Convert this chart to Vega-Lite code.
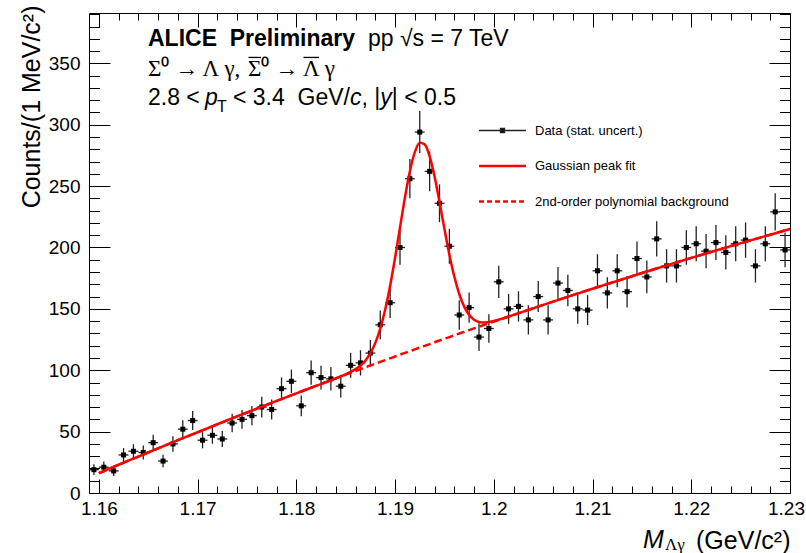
{
"$schema": "https://vega.github.io/schema/vega-lite/v6.json",
"width": 701,
"height": 480,
"autosize": {"type": "none"},
"padding": {"left": 89, "top": 13, "right": 16, "bottom": 60},
"background": "white",
"config": {
  "view": {"stroke": "black", "strokeWidth": 1},
  "axis": {"labelFont": "Liberation Sans", "titleFont": "Liberation Sans", "labelFontSize": 19, "titleFontSize": 25, "titleFontWeight": "normal", "labelColor": "black", "titleColor": "black", "tickColor": "black", "tickWidth": 1, "domain": false, "grid": false, "labelOverlap": false, "labelFlush": false}
},
"datasets": {
  "hist": [
    {"m":1.1595,"x0":1.159,"x1":1.160,"n":19,"lo":14.6,"hi":23.4},
    {"m":1.1605,"x0":1.160,"x1":1.161,"n":21,"lo":16.4,"hi":25.6},
    {"m":1.1615,"x0":1.161,"x1":1.162,"n":18,"lo":13.8,"hi":22.2},
    {"m":1.1625,"x0":1.162,"x1":1.163,"n":31,"lo":25.4,"hi":36.6},
    {"m":1.1635,"x0":1.163,"x1":1.164,"n":34,"lo":28.2,"hi":39.8},
    {"m":1.1645,"x0":1.164,"x1":1.165,"n":33,"lo":27.3,"hi":38.7},
    {"m":1.1655,"x0":1.165,"x1":1.166,"n":41,"lo":34.6,"hi":47.4},
    {"m":1.1665,"x0":1.166,"x1":1.167,"n":26,"lo":20.9,"hi":31.1},
    {"m":1.1675,"x0":1.167,"x1":1.168,"n":40,"lo":33.7,"hi":46.3},
    {"m":1.1685,"x0":1.168,"x1":1.169,"n":52,"lo":44.8,"hi":59.2},
    {"m":1.1695,"x0":1.169,"x1":1.170,"n":59,"lo":51.3,"hi":66.7},
    {"m":1.1705,"x0":1.170,"x1":1.171,"n":43,"lo":36.4,"hi":49.6},
    {"m":1.1715,"x0":1.171,"x1":1.172,"n":47,"lo":40.1,"hi":53.9},
    {"m":1.1725,"x0":1.172,"x1":1.173,"n":44,"lo":37.4,"hi":50.6},
    {"m":1.1735,"x0":1.173,"x1":1.174,"n":57,"lo":49.5,"hi":64.5},
    {"m":1.1745,"x0":1.174,"x1":1.175,"n":60,"lo":52.3,"hi":67.7},
    {"m":1.1755,"x0":1.175,"x1":1.176,"n":63,"lo":55.1,"hi":70.9},
    {"m":1.1765,"x0":1.176,"x1":1.177,"n":70,"lo":61.6,"hi":78.4},
    {"m":1.1775,"x0":1.177,"x1":1.178,"n":68,"lo":59.8,"hi":76.2},
    {"m":1.1785,"x0":1.178,"x1":1.179,"n":85,"lo":75.8,"hi":94.2},
    {"m":1.1795,"x0":1.179,"x1":1.180,"n":91,"lo":81.5,"hi":100.5},
    {"m":1.1805,"x0":1.180,"x1":1.181,"n":71,"lo":62.6,"hi":79.4},
    {"m":1.1815,"x0":1.181,"x1":1.182,"n":98,"lo":88.1,"hi":107.9},
    {"m":1.1825,"x0":1.182,"x1":1.183,"n":94,"lo":84.3,"hi":103.7},
    {"m":1.1835,"x0":1.183,"x1":1.184,"n":93,"lo":83.4,"hi":102.6},
    {"m":1.1845,"x0":1.184,"x1":1.185,"n":87,"lo":77.7,"hi":96.3},
    {"m":1.1855,"x0":1.185,"x1":1.186,"n":104,"lo":93.8,"hi":114.2},
    {"m":1.1865,"x0":1.186,"x1":1.187,"n":106,"lo":95.7,"hi":116.3},
    {"m":1.1875,"x0":1.187,"x1":1.188,"n":114,"lo":103.3,"hi":124.7},
    {"m":1.1885,"x0":1.188,"x1":1.189,"n":137,"lo":125.3,"hi":148.7},
    {"m":1.1895,"x0":1.189,"x1":1.190,"n":155,"lo":142.5,"hi":167.5},
    {"m":1.1905,"x0":1.190,"x1":1.191,"n":200,"lo":185.9,"hi":214.1},
    {"m":1.1915,"x0":1.191,"x1":1.192,"n":256,"lo":240.0,"hi":272.0},
    {"m":1.1925,"x0":1.192,"x1":1.193,"n":294,"lo":276.9,"hi":311.1},
    {"m":1.1935,"x0":1.193,"x1":1.194,"n":262,"lo":245.8,"hi":278.2},
    {"m":1.1945,"x0":1.194,"x1":1.195,"n":236,"lo":220.6,"hi":251.4},
    {"m":1.1955,"x0":1.195,"x1":1.196,"n":201,"lo":186.8,"hi":215.2},
    {"m":1.1965,"x0":1.196,"x1":1.197,"n":145,"lo":133.0,"hi":157.0},
    {"m":1.1975,"x0":1.197,"x1":1.198,"n":151,"lo":138.7,"hi":163.3},
    {"m":1.1985,"x0":1.198,"x1":1.199,"n":127,"lo":115.7,"hi":138.3},
    {"m":1.1995,"x0":1.199,"x1":1.200,"n":134,"lo":122.4,"hi":145.6},
    {"m":1.2005,"x0":1.200,"x1":1.201,"n":172,"lo":158.9,"hi":185.1},
    {"m":1.2015,"x0":1.201,"x1":1.202,"n":150,"lo":137.8,"hi":162.2},
    {"m":1.2025,"x0":1.202,"x1":1.203,"n":152,"lo":139.7,"hi":164.3},
    {"m":1.2035,"x0":1.203,"x1":1.204,"n":141,"lo":129.1,"hi":152.9},
    {"m":1.2045,"x0":1.204,"x1":1.205,"n":160,"lo":147.4,"hi":172.6},
    {"m":1.2055,"x0":1.205,"x1":1.206,"n":141,"lo":129.1,"hi":152.9},
    {"m":1.2065,"x0":1.206,"x1":1.207,"n":171,"lo":157.9,"hi":184.1},
    {"m":1.2075,"x0":1.207,"x1":1.208,"n":165,"lo":152.2,"hi":177.8},
    {"m":1.2085,"x0":1.208,"x1":1.209,"n":150,"lo":137.8,"hi":162.2},
    {"m":1.2095,"x0":1.209,"x1":1.210,"n":149,"lo":136.8,"hi":161.2},
    {"m":1.2105,"x0":1.210,"x1":1.211,"n":181,"lo":167.5,"hi":194.5},
    {"m":1.2115,"x0":1.211,"x1":1.212,"n":163,"lo":150.2,"hi":175.8},
    {"m":1.2125,"x0":1.212,"x1":1.213,"n":181,"lo":167.5,"hi":194.5},
    {"m":1.2135,"x0":1.213,"x1":1.214,"n":164,"lo":151.2,"hi":176.8},
    {"m":1.2145,"x0":1.214,"x1":1.215,"n":191,"lo":177.2,"hi":204.8},
    {"m":1.2155,"x0":1.215,"x1":1.216,"n":176,"lo":162.7,"hi":189.3},
    {"m":1.2165,"x0":1.216,"x1":1.217,"n":207,"lo":192.6,"hi":221.4},
    {"m":1.2175,"x0":1.217,"x1":1.218,"n":185,"lo":171.4,"hi":198.6},
    {"m":1.2185,"x0":1.218,"x1":1.219,"n":185,"lo":171.4,"hi":198.6},
    {"m":1.2195,"x0":1.219,"x1":1.220,"n":200,"lo":185.9,"hi":214.1},
    {"m":1.2205,"x0":1.220,"x1":1.221,"n":203,"lo":188.8,"hi":217.2},
    {"m":1.2215,"x0":1.221,"x1":1.222,"n":197,"lo":183.0,"hi":211.0},
    {"m":1.2225,"x0":1.222,"x1":1.223,"n":204,"lo":189.7,"hi":218.3},
    {"m":1.2235,"x0":1.223,"x1":1.224,"n":196,"lo":182.0,"hi":210.0},
    {"m":1.2245,"x0":1.224,"x1":1.225,"n":203,"lo":188.8,"hi":217.2},
    {"m":1.2255,"x0":1.225,"x1":1.226,"n":206,"lo":191.6,"hi":220.4},
    {"m":1.2265,"x0":1.226,"x1":1.227,"n":185,"lo":171.4,"hi":198.6},
    {"m":1.2275,"x0":1.227,"x1":1.228,"n":203,"lo":188.8,"hi":217.2},
    {"m":1.2285,"x0":1.228,"x1":1.229,"n":229,"lo":213.9,"hi":244.1},
    {"m":1.2295,"x0":1.229,"x1":1.230,"n":198,"lo":183.9,"hi":212.1}
  ],
  "curve": [
    {"m":1.160,"total":16.2,"bkg":16.2},
    {"m":1.162,"total":23.0,"bkg":23.0},
    {"m":1.164,"total":29.7,"bkg":29.7},
    {"m":1.166,"total":36.4,"bkg":36.4},
    {"m":1.168,"total":43.0,"bkg":43.0},
    {"m":1.170,"total":49.5,"bkg":49.5},
    {"m":1.172,"total":56.0,"bkg":56.0},
    {"m":1.174,"total":62.4,"bkg":62.4},
    {"m":1.176,"total":68.7,"bkg":68.7},
    {"m":1.178,"total":75.0,"bkg":75.0},
    {"m":1.180,"total":81.2,"bkg":81.2},
    {"m":1.182,"total":87.3,"bkg":87.3},
    {"m":1.184,"total":93.4,"bkg":93.4},
    {"m":1.185,"total":96.7,"bkg":96.4},
    {"m":1.186,"total":100.9,"bkg":99.4},
    {"m":1.1865,"total":103.9,"bkg":100.9},
    {"m":1.187,"total":108.0,"bkg":102.4},
    {"m":1.1875,"total":113.9,"bkg":103.9},
    {"m":1.188,"total":122.3,"bkg":105.3},
    {"m":1.1885,"total":133.9,"bkg":106.8},
    {"m":1.189,"total":149.4,"bkg":108.3},
    {"m":1.1895,"total":168.8,"bkg":109.7},
    {"m":1.190,"total":191.6,"bkg":111.2},
    {"m":1.1905,"total":216.3,"bkg":112.7},
    {"m":1.191,"total":240.7,"bkg":114.1},
    {"m":1.1915,"total":262.1,"bkg":115.6},
    {"m":1.192,"total":277.6,"bkg":117.0},
    {"m":1.1925,"total":285.3,"bkg":118.5},
    {"m":1.193,"total":284.0,"bkg":119.9},
    {"m":1.1935,"total":274.3,"bkg":121.3},
    {"m":1.194,"total":257.9,"bkg":122.8},
    {"m":1.1945,"total":237.2,"bkg":124.2},
    {"m":1.195,"total":215.2,"bkg":125.6},
    {"m":1.1955,"total":194.3,"bkg":127.0},
    {"m":1.196,"total":176.3,"bkg":128.4},
    {"m":1.1965,"total":162.1,"bkg":129.9},
    {"m":1.197,"total":151.8,"bkg":131.3},
    {"m":1.1975,"total":145.1,"bkg":132.7},
    {"m":1.198,"total":141.2,"bkg":134.1},
    {"m":1.1985,"total":139.3,"bkg":135.5},
    {"m":1.199,"total":138.8,"bkg":136.8},
    {"m":1.200,"total":140.1,"bkg":139.6},
    {"m":1.201,"total":142.4,"bkg":142.4},
    {"m":1.202,"total":145.1,"bkg":145.1},
    {"m":1.204,"total":150.5,"bkg":150.5},
    {"m":1.206,"total":155.9,"bkg":155.9},
    {"m":1.208,"total":161.2,"bkg":161.2},
    {"m":1.210,"total":166.4,"bkg":166.4},
    {"m":1.212,"total":171.5,"bkg":171.5},
    {"m":1.214,"total":176.6,"bkg":176.6},
    {"m":1.216,"total":181.7,"bkg":181.7},
    {"m":1.218,"total":186.6,"bkg":186.6},
    {"m":1.220,"total":191.5,"bkg":191.5},
    {"m":1.222,"total":196.3,"bkg":196.3},
    {"m":1.224,"total":201.1,"bkg":201.1},
    {"m":1.226,"total":205.8,"bkg":205.8},
    {"m":1.228,"total":210.4,"bkg":210.4},
    {"m":1.230,"total":215.0,"bkg":215.0}
  ]
},
"resolve": {"axis": {"x": "independent", "y": "independent"}},
"layer": [
  {
    "data": {"name": "hist"},
    "mark": {"type": "rule", "color": "#222222", "strokeWidth": 1.3},
    "encoding": {
      "x": {"field": "x0", "type": "quantitative", "scale": {"domain": [1.159, 1.23], "nice": false, "zero": false},
        "axis": {"orient": "bottom",
          "values": [1.16,1.162,1.164,1.166,1.168,1.17,1.172,1.174,1.176,1.178,1.18,1.182,1.184,1.186,1.188,1.19,1.192,1.194,1.196,1.198,1.2,1.202,1.204,1.206,1.208,1.21,1.212,1.214,1.216,1.218,1.22,1.222,1.224,1.226,1.228,1.23],
          "tickSize": {"condition": {"test": "abs(datum.value*100 - round(datum.value*100)) < 0.001", "value": -14}, "value": -7},
          "labelExpr": "abs(datum.value*100 - round(datum.value*100)) < 0.001 ? format(datum.value, '.3~g') : ''",
          "labelOffset": {"condition": {"test": "datum.value > 1.2295", "value": -4}, "value": 0},
          "labelPadding": 20,
          "title": "(GeV/c²)", "titleAnchor": "end", "titleAlign": "right", "titleBaseline": "alphabetic", "titleX": 701, "titleY": 55}},
      "x2": {"field": "x1"},
      "y": {"field": "n", "type": "quantitative", "scale": {"domain": [0, 391], "nice": false, "zero": false},
        "axis": {"orient": "left",
          "values": [0,10,20,30,40,50,60,70,80,90,100,110,120,130,140,150,160,170,180,190,200,210,220,230,240,250,260,270,280,290,300,310,320,330,340,350,360,370,380,390],
          "tickSize": {"condition": {"test": "datum.value % 50 === 0", "value": -21}, "value": -10.5},
          "labelExpr": "datum.value % 50 === 0 ? datum.label : ''",
          "labelPadding": 30,
          "title": "Counts/(1 MeV/c²)", "titleAnchor": "end", "titleAlign": "right", "titleAngle": -90, "titleBaseline": "alphabetic", "titleX": -50, "titleY": -8}}
    }
  },
  {
    "data": {"name": "hist"},
    "mark": {"type": "rule", "color": "#222222", "strokeWidth": 1.3},
    "encoding": {
      "x": {"field": "m", "type": "quantitative", "scale": {"domain": [1.159, 1.23], "nice": false, "zero": false},
        "axis": {"orient": "top",
          "values": [1.16,1.162,1.164,1.166,1.168,1.17,1.172,1.174,1.176,1.178,1.18,1.182,1.184,1.186,1.188,1.19,1.192,1.194,1.196,1.198,1.2,1.202,1.204,1.206,1.208,1.21,1.212,1.214,1.216,1.218,1.22,1.222,1.224,1.226,1.228,1.23],
          "tickSize": {"condition": {"test": "abs(datum.value*100 - round(datum.value*100)) < 0.001", "value": -14}, "value": -7},
          "labels": false, "title": null}},
      "y": {"field": "lo", "type": "quantitative", "scale": {"domain": [0, 391], "nice": false, "zero": false},
        "axis": {"orient": "right",
          "values": [0,10,20,30,40,50,60,70,80,90,100,110,120,130,140,150,160,170,180,190,200,210,220,230,240,250,260,270,280,290,300,310,320,330,340,350,360,370,380,390],
          "tickSize": {"condition": {"test": "datum.value % 50 === 0", "value": -21}, "value": -10.5},
          "labels": false, "title": null}},
      "y2": {"field": "hi"}
    }
  },
  {
    "data": {"name": "hist"},
    "mark": {"type": "point", "shape": "square", "filled": true, "size": 25, "color": "black", "opacity": 1},
    "encoding": {
      "x": {"field": "m", "type": "quantitative", "scale": {"domain": [1.159, 1.23], "nice": false, "zero": false}, "axis": null},
      "y": {"field": "n", "type": "quantitative", "scale": {"domain": [0, 391], "nice": false, "zero": false}, "axis": null}
    }
  },
  {
    "data": {"name": "curve"},
    "mark": {"type": "line", "color": "#ff0000", "strokeWidth": 2.5, "strokeDash": [8, 4]},
    "encoding": {
      "x": {"field": "m", "type": "quantitative", "scale": {"domain": [1.159, 1.23], "nice": false, "zero": false}, "axis": null},
      "y": {"field": "bkg", "type": "quantitative", "scale": {"domain": [0, 391], "nice": false, "zero": false}, "axis": null}
    }
  },
  {
    "data": {"name": "curve"},
    "mark": {"type": "line", "strokeWidth": 2.5, "interpolate": "monotone"},
    "encoding": {
      "x": {"field": "m", "type": "quantitative", "scale": {"domain": [1.159, 1.23], "nice": false, "zero": false}, "axis": null},
      "y": {"field": "total", "type": "quantitative", "scale": {"domain": [0, 391], "nice": false, "zero": false}, "axis": null},
      "color": {"datum": "Gaussian peak fit", "type": "nominal",
        "scale": {"domain": ["Data (stat. uncert.)", "Gaussian peak fit", "2nd-order polynomial background"], "range": ["#222222", "#ff0000", "#ff0000"]},
        "legend": {"orient": "none", "legendX": 407, "legendY": 111, "title": null, "padding": 0, "symbolSize": 1156, "labelOffset": 26, "labelFontSize": 13, "labelFont": "Liberation Sans", "labelColor": "black", "labelLimit": 400, "rowPadding": 21.5, "symbolStrokeWidth": 1.5,
          "encode": {"symbols": {"update": {
            "shape": {"signal": "datum.value === 'Data (stat. uncert.)' ? 'M-1.382,0H1.382M-0.12,-0.12H0.12V0.12H-0.12Z' : 'M-1.382,0H1.382'"},
            "strokeDash": {"signal": "datum.value === '2nd-order polynomial background' ? [5,3] : []"},
            "strokeWidth": {"signal": "datum.value === 'Data (stat. uncert.)' ? 1.3 : 2.5"},
            "fill": {"signal": "datum.value === 'Data (stat. uncert.)' ? 'black' : 'transparent'"},
            "fillOpacity": {"value": 1},
            "stroke": {"signal": "datum.value === 'Data (stat. uncert.)' ? '#444444' : '#ff0000'"}
          }}}}
      }
    }
  },
  {
    "data": {"values": [{}]},
    "mark": {"type": "text", "text": "M", "font": "Liberation Sans", "fontSize": 25, "fontStyle": "italic", "align": "left", "baseline": "alphabetic", "color": "black"},
    "encoding": {
      "x": {"datum": 1.215113, "type": "quantitative", "scale": {"domain": [1.159, 1.23], "nice": false, "zero": false}, "axis": null},
      "y": {"datum": -44.8, "type": "quantitative", "scale": {"domain": [0, 391], "nice": false, "zero": false}, "axis": null}
    }
  },
  {
    "data": {"values": [{}]},
    "mark": {"type": "text", "text": "Λγ", "font": "Liberation Serif", "fontSize": 17, "align": "left", "baseline": "alphabetic", "color": "black"},
    "encoding": {
      "x": {"datum": 1.217341, "type": "quantitative", "scale": {"domain": [1.159, 1.23], "nice": false, "zero": false}, "axis": null},
      "y": {"datum": -46.4, "type": "quantitative", "scale": {"domain": [0, 391], "nice": false, "zero": false}, "axis": null}
    }
  },
  {
    "data": {"values": [{}]},
    "mark": {"type": "text", "text": "ALICE\u00a0\u00a0Preliminary", "font": "Liberation Sans", "fontSize": 23, "fontWeight": "bold", "align": "left", "baseline": "alphabetic", "color": "black"},
    "encoding": {
      "x": {"datum": 1.164976, "type": "quantitative", "scale": {"domain": [1.159, 1.23], "nice": false, "zero": false}, "axis": null},
      "y": {"datum": 364.1, "type": "quantitative", "scale": {"domain": [0, 391], "nice": false, "zero": false}, "axis": null}
    }
  },
  {
    "data": {"values": [{}]},
    "mark": {"type": "text", "text": "pp √s = 7 TeV", "font": "Liberation Sans", "fontSize": 23, "align": "left", "baseline": "alphabetic", "color": "black"},
    "encoding": {
      "x": {"datum": 1.187259, "type": "quantitative", "scale": {"domain": [1.159, 1.23], "nice": false, "zero": false}, "axis": null},
      "y": {"datum": 364.1, "type": "quantitative", "scale": {"domain": [0, 391], "nice": false, "zero": false}, "axis": null}
    }
  },
  {
    "data": {"values": [{}]},
    "mark": {"type": "text", "text": "Σ⁰ → Λ γ,", "font": "Liberation Serif", "fontSize": 23, "align": "left", "baseline": "alphabetic", "color": "black"},
    "encoding": {
      "x": {"datum": 1.164976, "type": "quantitative", "scale": {"domain": [1.159, 1.23], "nice": false, "zero": false}, "axis": null},
      "y": {"datum": 339.7, "type": "quantitative", "scale": {"domain": [0, 391], "nice": false, "zero": false}, "axis": null}
    }
  },
  {
    "data": {"values": [{}]},
    "mark": {"type": "text", "text": "Σ⁰ →", "font": "Liberation Serif", "fontSize": 23, "align": "left", "baseline": "alphabetic", "color": "black"},
    "encoding": {
      "x": {"datum": 1.175105, "type": "quantitative", "scale": {"domain": [1.159, 1.23], "nice": false, "zero": false}, "axis": null},
      "y": {"datum": 339.7, "type": "quantitative", "scale": {"domain": [0, 391], "nice": false, "zero": false}, "axis": null}
    }
  },
  {
    "data": {"values": [{}]},
    "mark": {"type": "text", "text": "Λ γ", "font": "Liberation Serif", "fontSize": 23, "align": "left", "baseline": "alphabetic", "color": "black"},
    "encoding": {
      "x": {"datum": 1.180676, "type": "quantitative", "scale": {"domain": [1.159, 1.23], "nice": false, "zero": false}, "axis": null},
      "y": {"datum": 339.7, "type": "quantitative", "scale": {"domain": [0, 391], "nice": false, "zero": false}, "axis": null}
    }
  },
  {
    "data": {"values": [{}]},
    "mark": {"type": "rule", "color": "black", "strokeWidth": 1.3},
    "encoding": {
      "x": {"datum": 1.175156, "type": "quantitative", "scale": {"domain": [1.159, 1.23], "nice": false, "zero": false}, "axis": null},
      "x2": {"datum": 1.176422},
      "y": {"datum": 354.8, "type": "quantitative", "scale": {"domain": [0, 391], "nice": false, "zero": false}, "axis": null}
    }
  },
  {
    "data": {"values": [{}]},
    "mark": {"type": "rule", "color": "black", "strokeWidth": 1.3},
    "encoding": {
      "x": {"datum": 1.180727, "type": "quantitative", "scale": {"domain": [1.159, 1.23], "nice": false, "zero": false}, "axis": null},
      "x2": {"datum": 1.182297},
      "y": {"datum": 354.8, "type": "quantitative", "scale": {"domain": [0, 391], "nice": false, "zero": false}, "axis": null}
    }
  },
  {
    "data": {"values": [{}]},
    "mark": {"type": "text", "text": "2.8 <", "font": "Liberation Sans", "fontSize": 23, "align": "left", "baseline": "alphabetic", "color": "black"},
    "encoding": {
      "x": {"datum": 1.164976, "type": "quantitative", "scale": {"domain": [1.159, 1.23], "nice": false, "zero": false}, "axis": null},
      "y": {"datum": 316.1, "type": "quantitative", "scale": {"domain": [0, 391], "nice": false, "zero": false}, "axis": null}
    }
  },
  {
    "data": {"values": [{}]},
    "mark": {"type": "text", "text": "p", "font": "Liberation Sans", "fontSize": 23, "fontStyle": "italic", "align": "left", "baseline": "alphabetic", "color": "black"},
    "encoding": {
      "x": {"datum": 1.170749, "type": "quantitative", "scale": {"domain": [1.159, 1.23], "nice": false, "zero": false}, "axis": null},
      "y": {"datum": 316.1, "type": "quantitative", "scale": {"domain": [0, 391], "nice": false, "zero": false}, "axis": null}
    }
  },
  {
    "data": {"values": [{}]},
    "mark": {"type": "text", "text": "T", "font": "Liberation Sans", "fontSize": 16, "align": "left", "baseline": "alphabetic", "color": "black"},
    "encoding": {
      "x": {"datum": 1.171965, "type": "quantitative", "scale": {"domain": [1.159, 1.23], "nice": false, "zero": false}, "axis": null},
      "y": {"datum": 310.4, "type": "quantitative", "scale": {"domain": [0, 391], "nice": false, "zero": false}, "axis": null}
    }
  },
  {
    "data": {"values": [{}]},
    "mark": {"type": "text", "text": "< 3.4\u00a0\u00a0GeV/", "font": "Liberation Sans", "fontSize": 23, "align": "left", "baseline": "alphabetic", "color": "black"},
    "encoding": {
      "x": {"datum": 1.173585, "type": "quantitative", "scale": {"domain": [1.159, 1.23], "nice": false, "zero": false}, "axis": null},
      "y": {"datum": 316.1, "type": "quantitative", "scale": {"domain": [0, 391], "nice": false, "zero": false}, "axis": null}
    }
  },
  {
    "data": {"values": [{}]},
    "mark": {"type": "text", "text": "c", "font": "Liberation Sans", "fontSize": 23, "fontStyle": "italic", "align": "left", "baseline": "alphabetic", "color": "black"},
    "encoding": {
      "x": {"datum": 1.185435, "type": "quantitative", "scale": {"domain": [1.159, 1.23], "nice": false, "zero": false}, "axis": null},
      "y": {"datum": 316.1, "type": "quantitative", "scale": {"domain": [0, 391], "nice": false, "zero": false}, "axis": null}
    }
  },
  {
    "data": {"values": [{}]},
    "mark": {"type": "text", "text": ",\u00a0|", "font": "Liberation Sans", "fontSize": 23, "align": "left", "baseline": "alphabetic", "color": "black"},
    "encoding": {
      "x": {"datum": 1.1866, "type": "quantitative", "scale": {"domain": [1.159, 1.23], "nice": false, "zero": false}, "axis": null},
      "y": {"datum": 316.1, "type": "quantitative", "scale": {"domain": [0, 391], "nice": false, "zero": false}, "axis": null}
    }
  },
  {
    "data": {"values": [{}]},
    "mark": {"type": "text", "text": "y", "font": "Liberation Sans", "fontSize": 23, "fontStyle": "italic", "align": "left", "baseline": "alphabetic", "color": "black"},
    "encoding": {
      "x": {"datum": 1.188504, "type": "quantitative", "scale": {"domain": [1.159, 1.23], "nice": false, "zero": false}, "axis": null},
      "y": {"datum": 316.1, "type": "quantitative", "scale": {"domain": [0, 391], "nice": false, "zero": false}, "axis": null}
    }
  },
  {
    "data": {"values": [{}]},
    "mark": {"type": "text", "text": "| < 0.5", "font": "Liberation Sans", "fontSize": 23, "align": "left", "baseline": "alphabetic", "color": "black"},
    "encoding": {
      "x": {"datum": 1.189669, "type": "quantitative", "scale": {"domain": [1.159, 1.23], "nice": false, "zero": false}, "axis": null},
      "y": {"datum": 316.1, "type": "quantitative", "scale": {"domain": [0, 391], "nice": false, "zero": false}, "axis": null}
    }
  }
]
}
